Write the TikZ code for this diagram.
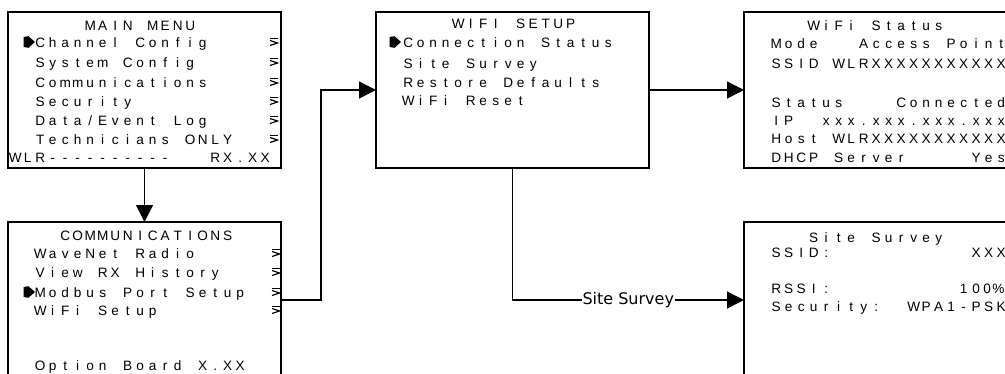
\documentclass[tikz,border=0pt]{standalone}
\usepackage{fontspec}
\setmainfont{Liberation Sans}
\newfontfamily\labelfont{DejaVu Sans}
\usetikzlibrary{arrows.meta}
\ExplSyntaxOn
\NewDocumentCommand\lcd{m}
 {
  \str_map_inline:nn {#1}
   {
    \str_if_eq:nnTF {##1} {_}
     { \hbox_to_wd:nn {12.5pt} {\hfil} }
     { \makebox[12.5pt][c]{##1} }
   }
 }
\ExplSyntaxOff
\tikzset{
  box/.style={draw, line width=1.6pt, minimum width=273pt, minimum height=156pt,
              anchor=north west, inner sep=0pt, outer sep=0pt},
  txt/.style={anchor=base west, inner sep=0pt, outer sep=0pt,
              font=\fontsize{13.6}{15}\selectfont},
  arr/.style={line width=1.4pt, -{Triangle[length=17pt,width=17pt]}},
  lab/.style={fill=white, inner sep=1pt, font=\labelfont\fontsize{16}{19}\selectfont},
  subm/.pic={\draw[line width=1.4pt] (0,-3.5)--(8,-3.5);
             \draw[line width=1.2pt] (0,-1.5)--(7.5,1)--(0,3.5);},
  pointer/.pic={\fill (0,-5)--(5,-5.8)--(11.5,0)--(5,5.8)--(0,5)--cycle;}
}
\begin{document}
\begin{tikzpicture}[x=1pt,y=-1pt]
\useasboundingbox (0,0) rectangle (1005,373);
\clip (0,0) rectangle (1005,373);

% boxes
\node[box] (main)   at (8,12)   {};
\node[box] (comms)  at (8,222)  {};
\node[box] (wifi)   at (376,12) {};
\node[box] (status) at (744,12) {};
\node[box] (ss)     at (744,222) {};

% MAIN MENU
\node[txt] (m0) at (9,30)  {\lcd{______MAIN MENU}};
\node[txt] (m1) at (9,47)  {\lcd{__Channel Config}};
\node[txt] (m2) at (9,67)  {\lcd{__System Config}};
\node[txt] (m3) at (9,87)  {\lcd{__Communications}};
\node[txt] (m4) at (9,106) {\lcd{__Security}};
\node[txt] (m5) at (9,125) {\lcd{__Data/Event Log}};
\node[txt] (m6) at (9,144) {\lcd{__Technicians ONLY}};
\node[txt] (m7) at (9,162) {\lcd{WLR----------___RX.XX}};
\pic at (23.5,42) {pointer};
\foreach \yy in {42,62,82,101,120,139} \pic at (270,\yy) {subm};

% COMMUNICATIONS
\node[txt] (c0) at (9,240) {\lcd{____COMMUNICATIONS}};
\node[txt] (c1) at (9,258) {\lcd{__WaveNet Radio}};
\node[txt] (c2) at (9,277) {\lcd{__View RX History}};
\node[txt] (c3) at (9,297) {\lcd{__Modbus Port Setup}};
\node[txt] (c4) at (9,315) {\lcd{__WiFi Setup}};
\node[txt] (c5) at (9,370) {\lcd{__Option Board X.XX}};
\pic at (23.5,292) {pointer};
\foreach \yy in {253,272,292,310} \pic at (272,\yy) {subm};

% WIFI SETUP
\node[txt] (w0) at (377,28)  {\lcd{______WIFI SETUP}};
\node[txt] (w1) at (377,47)  {\lcd{__Connection Status}};
\node[txt] (w2) at (377,68)  {\lcd{__Site Survey}};
\node[txt] (w3) at (377,87)  {\lcd{__Restore Defaults}};
\node[txt] (w4) at (377,105) {\lcd{__WiFi Reset}};
\pic at (389.5,42) {pointer};

% WiFi Status
\node[txt] (s0) at (745,30)  {\lcd{_____WiFi Status}};
\node[txt] (s1) at (745,48)  {\lcd{__Mode___Access Point}};
\node[txt] (s2) at (745,68)  {\lcd{__SSID_WLRXXXXXXXXXXX}};
\node[txt] (s3) at (745,107) {\lcd{__Status____Connected}};
\node[txt] (s4) at (745,125) {\lcd{__IP__xxx.xxx.xxx.xxx}};
\node[txt] (s5) at (745,143) {\lcd{__Host_WLRXXXXXXXXXXX}};
\node[txt] (s6) at (745,162) {\lcd{__DHCP Server_____Yes}};

% Site Survey
\node[txt] (v0) at (745,242) {\lcd{_____Site Survey}};
\node[txt] (v1) at (745,257) {\lcd{__SSID:___________XXX}};
\node[txt] (v2) at (745,293) {\lcd{__RSSI:__________10}\hbox to 9.5pt{\hss 0\hss}\hbox to 13pt{\hss\%\hss}};
\node[txt] (v3) at (745,311) {\lcd{__Security:__WPA1-PSK}};

% connectors
\draw[arr] (main.south) -- (comms.north);
\draw[arr] (comms.east) -- ++(40,0) |- (wifi.west);
\draw[arr] (wifi.east) -- (status.west);
\draw[arr] (wifi.south) |- node[lab, pos=0.75] (lbl) {Site Survey} (ss.west);
\end{tikzpicture}
\end{document}
